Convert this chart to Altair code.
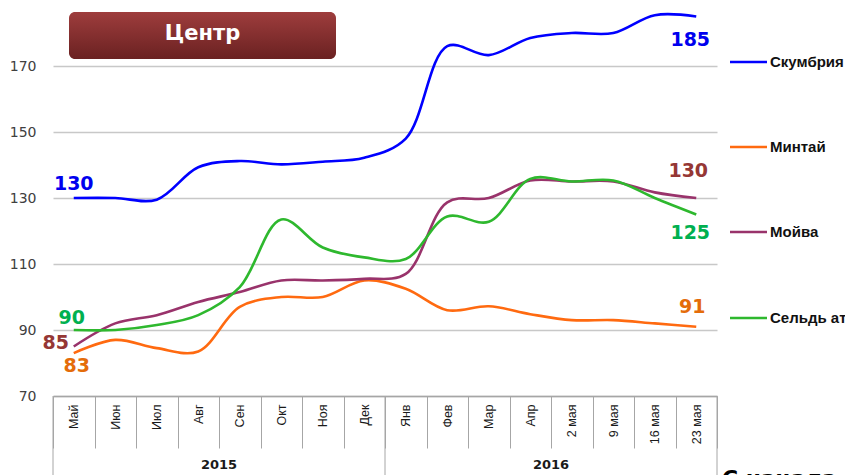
import altair as alt
import pandas as pd

categories = ["Май", "Июн", "Июл", "Авг", "Сен", "Окт", "Ноя", "Дек",
              "Янв", "Фев", "Мар", "Апр", "2 мая", "9 мая", "16 мая", "23 мая"]
years = ["2015", "2016"]
year_mid = ["Сен", "2 мая"]          # left edge of this category = centre of the year group
year_edges = ["Май", "Янв"]          # left edges of the year groups
series_names = ["Скумбрия", "Минтай", "Мойва", "Сельдь атл."]
skumbria = [130, 130, 129.5, 139.3, 141.2, 140.2, 141, 142.2, 148, 176, 173.3, 178.5, 180, 180, 185.4, 185]
mintai = [83, 87, 84.5, 83.5, 97, 100, 100, 105, 102.5, 96, 97.2, 94.8, 93, 93, 92, 91]
moiva = [85, 92, 94.5, 98.5, 101.5, 105, 105, 105.5, 107, 128.7, 130, 135.3, 135, 135, 131.7, 130]
seld = [90, 90, 91.5, 94.5, 103, 123.5, 115, 112, 111.5, 124.4, 122.8, 135.8, 135, 135.3, 130, 125]
line_colors = ["#0000ff", "#ff6a10", "#99336b", "#2eb82e"]
y_ticks = [70, 90, 110, 130, 150, 170, 190]

rows = []
for name, vals in zip(series_names, [skumbria, mintai, moiva, seld]):
    for i, (c, v) in enumerate(zip(categories, vals)):
        rows.append({"cat": c, "series": name, "value": v, "idx": i})
df = pd.DataFrame(rows)

W, H = 664, 396
GREY = "#a6a6a6"

x_scale = alt.Scale(type="band", domain=categories, paddingInner=0, paddingOuter=0)
x_axis = alt.Axis(title=None, labelAngle=270, labelAlign="right", labelBaseline="middle",
                  labelPadding=-44, tickBand="extent", ticks=True, tickSize=52,
                  tickColor=GREY, tickWidth=1, domainColor=GREY, domainWidth=1.5,
                  labelFont="Liberation Sans", labelFontSize=12.5, labelColor="#1a1a1a",
                  grid=False, labelOverlap=False)
y_scale = alt.Scale(domain=[70, 190], nice=False, zero=False)
y_axis = alt.Axis(title=None, values=y_ticks, grid=True, gridColor="#c8c8c8", gridWidth=1.5,
                  domain=False, ticks=False, labelPadding=17, labelFont="DejaVu Sans",
                  labelFontSize=14, labelColor="#404040")


def X(bp):
    return alt.X("cat:N", sort=categories, bandPosition=bp, scale=x_scale, axis=x_axis)


Y = alt.Y("value:Q", scale=y_scale, axis=y_axis)

lines = alt.Chart(df).mark_line(interpolate="catmull-rom", strokeWidth=2.6).encode(
    x=X(0.5), y=Y,
    color=alt.Color("series:N", scale=alt.Scale(domain=series_names, range=line_colors), legend=None),
    order=alt.Order("idx:Q"),
)

layers = [lines]

# value labels
label_specs = [
    ("Скумбрия", "Май", "#0000ee", 0, -14),
    ("Скумбрия", "23 мая", "#0000ee", -6, 23.5),
    ("Сельдь атл.", "Май", "#00b050", -2, -12.5),
    ("Мойва", "Май", "#953735", -18, -4),
    ("Минтай", "Май", "#e46c0a", 3, 13),
    ("Мойва", "23 мая", "#953735", -8, -27),
    ("Сельдь атл.", "23 мая", "#00b050", -6, 18.5),
    ("Минтай", "23 мая", "#e46c0a", -4, -19.5),
]
for s, c, col, dx, dy in label_specs:
    layers.append(
        alt.Chart(df).transform_filter((alt.datum.series == s) & (alt.datum.cat == c))
        .mark_text(font="DejaVu Sans", fontWeight="bold", fontSize=19, color=col, dx=dx, dy=dy)
        .encode(x=X(0.5), y=Y, text=alt.Text("value:Q", format=".0f"))
    )

# year group separators
sep_df = pd.DataFrame({"cat": year_edges})
layers.append(alt.Chart(sep_df).mark_rule(color=GREY, strokeWidth=1).encode(
    x=X(0), y=alt.value(H), y2=alt.value(475)))
end_df = pd.DataFrame({"cat": [categories[-1]]})
layers.append(alt.Chart(end_df).mark_rule(color=GREY, strokeWidth=1).encode(
    x=X(1), y=alt.value(H), y2=alt.value(475)))
year_df = pd.DataFrame({"cat": year_mid, "year": years})
layers.append(alt.Chart(year_df).mark_text(font="DejaVu Sans", fontWeight="bold", fontSize=13,
                                           color="#1a1a1a", baseline="middle").encode(
    x=X(0), y=alt.value(465), text="year:N"))

# title box
title_df = pd.DataFrame({"t": ["Центр"]})
grad = alt.LinearGradient(gradient="linear",
                          stops=[alt.GradientStop(color="#9e3d3d", offset=0),
                                 alt.GradientStop(color="#6a2121", offset=1)],
                          x1=0, x2=0, y1=0, y2=1)
layers.append(alt.Chart(title_df).mark_rect(cornerRadius=6, color=grad).encode(
    x=alt.value(16), x2=alt.value(283), y=alt.value(12), y2=alt.value(59)))
layers.append(alt.Chart(title_df).mark_text(font="DejaVu Sans", fontWeight="bold", fontSize=21,
                                            color="white", baseline="middle").encode(
    x=alt.value(149.5), y=alt.value(34), text="t:N"))

# manual legend
leg_y = [62, 147, 232, 318]
for name, col, yy in zip(series_names, line_colors, leg_y):
    ldf = pd.DataFrame({"series": [name]})
    layers.append(alt.Chart(ldf).mark_rule(color=col, strokeWidth=2.6).encode(
        x=alt.value(677), x2=alt.value(714), y=alt.value(yy)))
    layers.append(alt.Chart(ldf).mark_text(font="Liberation Sans", fontWeight="bold", fontSize=15,
                                           color="#111111", align="left", baseline="middle").encode(
        x=alt.value(717), y=alt.value(yy), text="series:N"))

# cut-off caption at bottom right
cap_df = pd.DataFrame({"t": ["С начала года"]})
layers.append(alt.Chart(cap_df).mark_text(font="DejaVu Sans", fontWeight="bold", fontSize=22,
                                          color="#000000", align="left", baseline="top").encode(
    x=alt.value(669), y=alt.value(469), text="t:N"))

chart = alt.layer(*layers).properties(
    width=W, height=H,
    padding={"left": 45, "top": -8, "right": 128, "bottom": 79},
    autosize=alt.AutoSizeParams(type="none"),
    background="white",
).configure_view(stroke=None)

chart.save("out.html", embed_options={"renderer": "svg", "actions": False})
